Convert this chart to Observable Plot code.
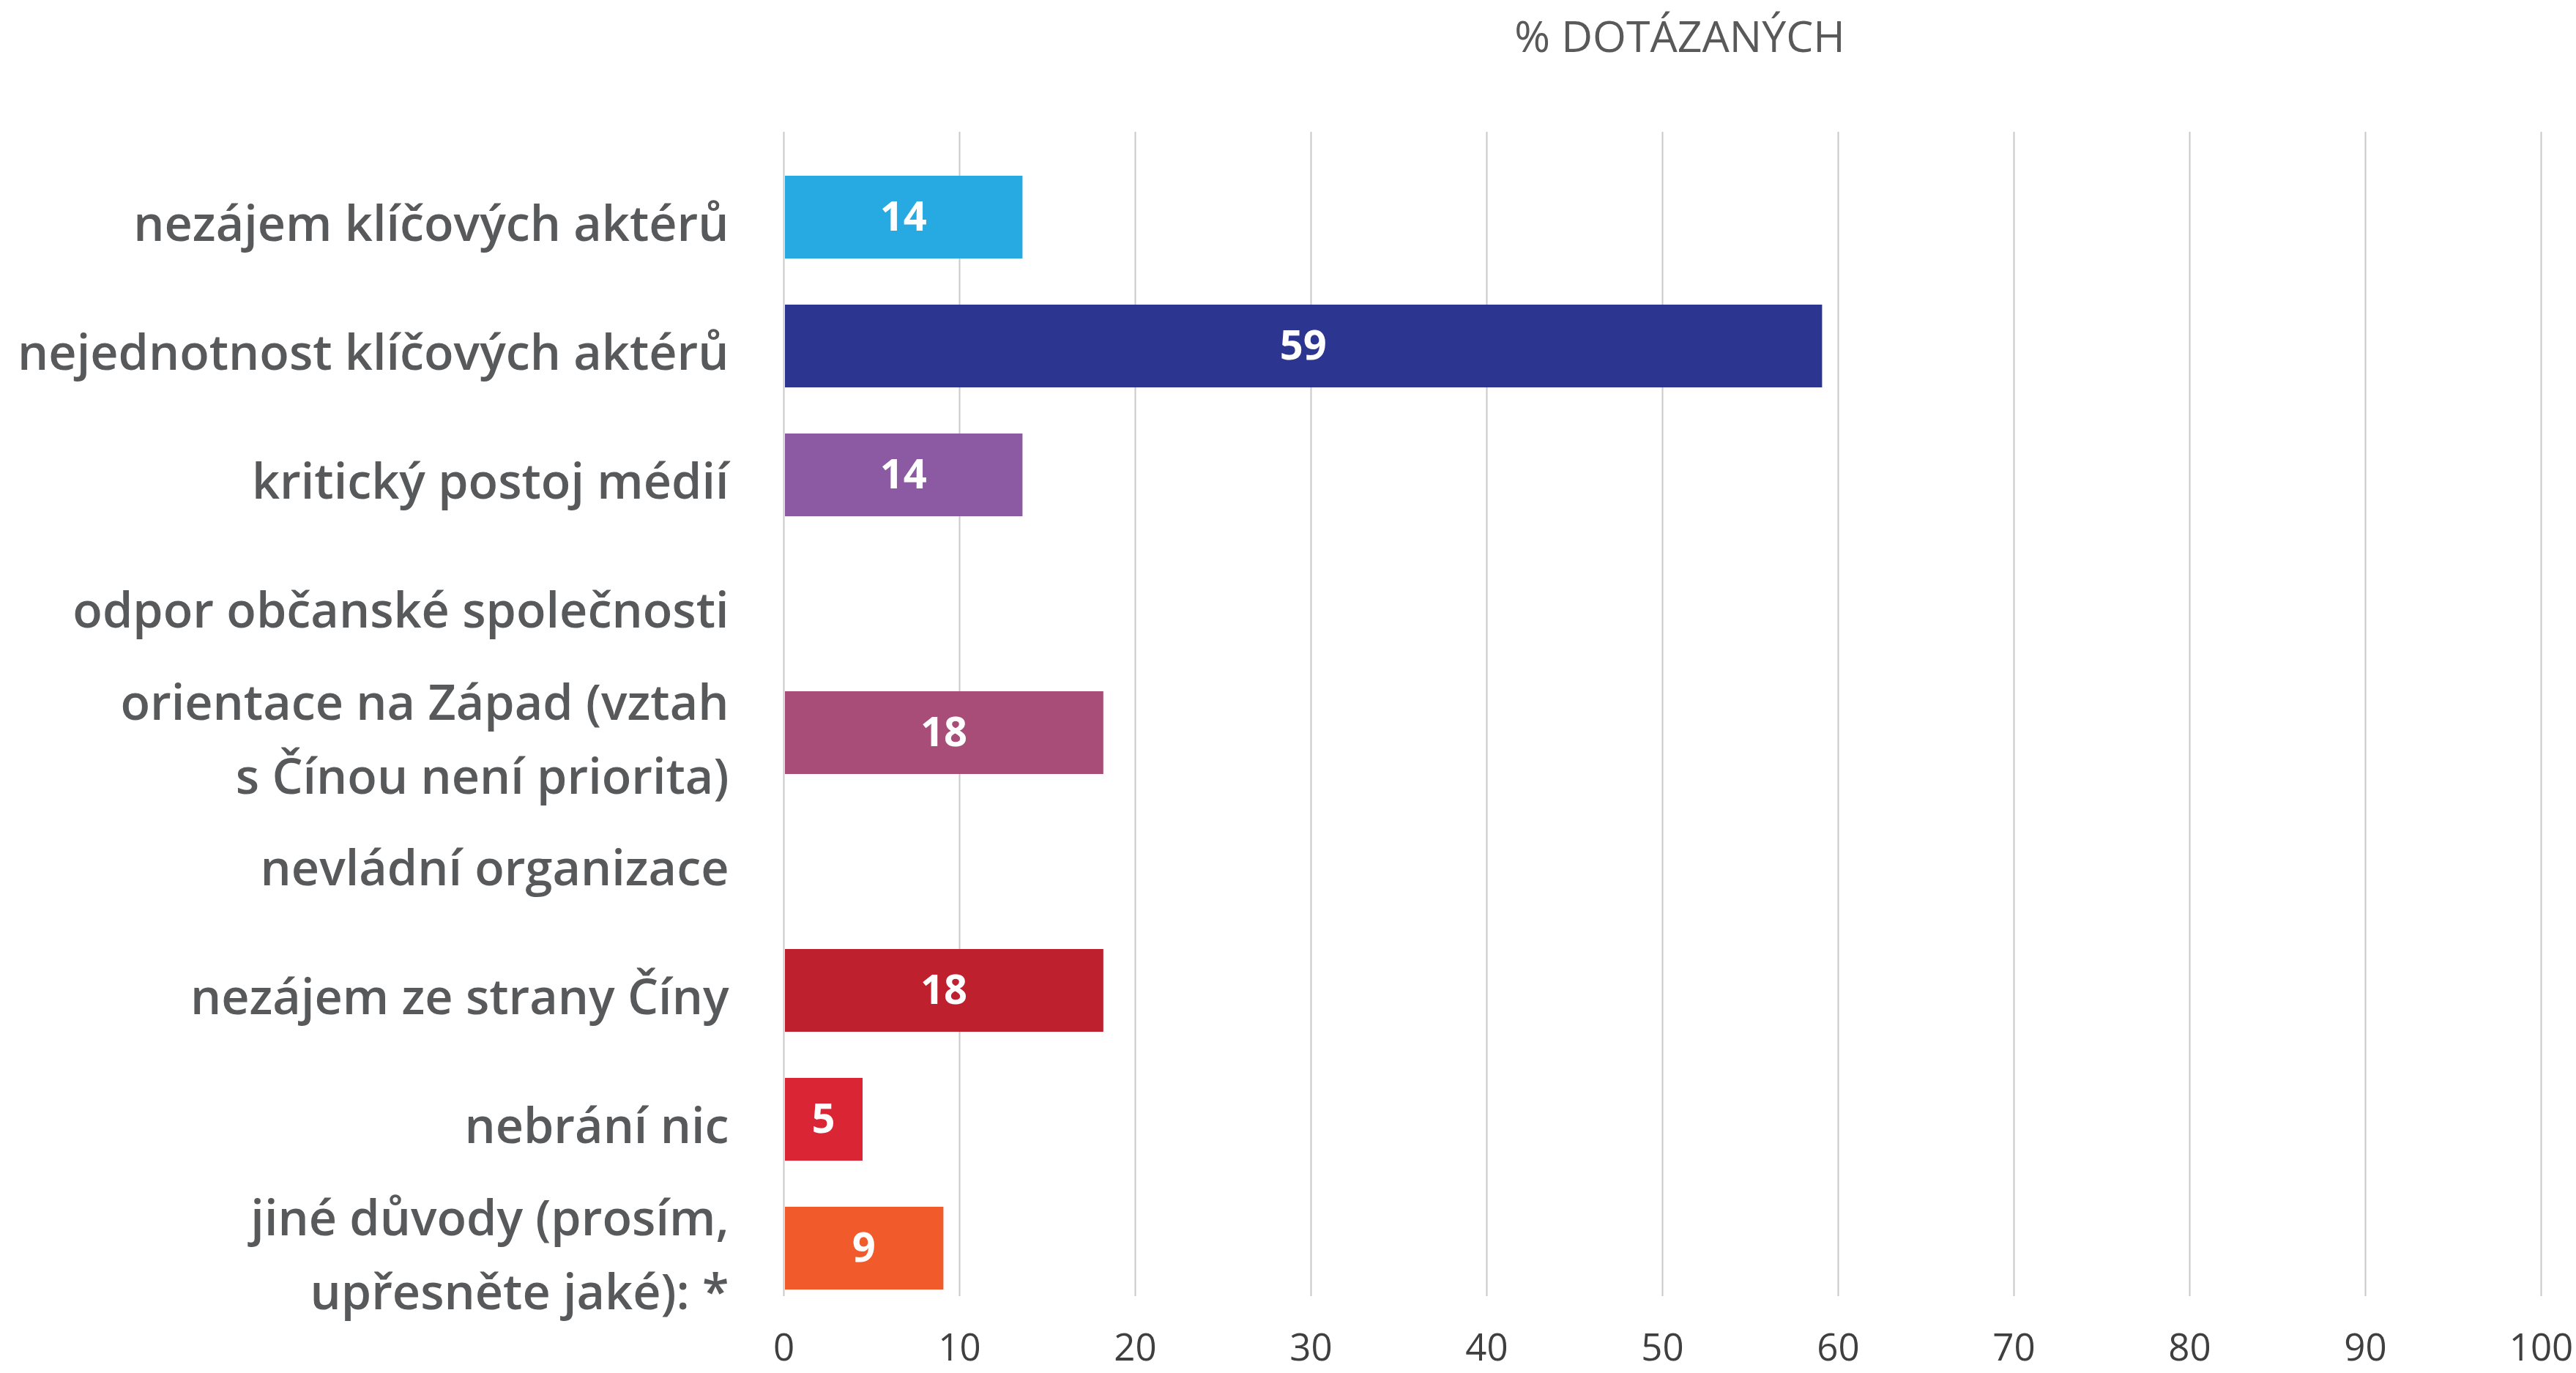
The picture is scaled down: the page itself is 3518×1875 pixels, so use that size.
<!DOCTYPE html>
<html>
<head>
<meta charset="utf-8">
<script src="https://cdn.jsdelivr.net/npm/d3@7"></script>
<script src="https://cdn.jsdelivr.net/npm/@observablehq/plot@0.6"></script>
<style>
  html, body { margin: 0; padding: 0; background: #fff; }
  #wrap { position: relative; width: 3518px; height: 1875px; overflow: hidden; }
  #title {
    position: absolute; left: 1094px; top: 0; width: 2400px; height: 120px;
    text-align: center; font-family: "Open Sans", sans-serif; font-size: 59px;
    font-weight: 400; color: #595959; line-height: 1; padding-top: 19px; box-sizing: border-box;
  }
  #chart { position: absolute; left: 0; top: 120px; }
</style>
</head>
<body>
<div id="wrap">
  <div id="title">% DOTÁZANÝCH</div>
  <div id="chart"></div>
</div>
<script>
const categories = [
  "nezájem klíčových aktérů",
  "nejednotnost klíčových aktérů",
  "kritický postoj médií",
  "odpor občanské společnosti",
  "orientace na Západ (vztah\ns Čínou není priorita)",
  "nevládní organizace",
  "nezájem ze strany Číny",
  "nebrání nic",
  "jiné důvody (prosím,\nupřesněte jaké): *"
];
const values = [13.6, 59.1, 13.6, 0, 18.2, 0, 18.2, 4.5, 9.1];
const colors = ["#27a9e1", "#2c3690", "#8c5aa2", "#999999", "#a84d78", "#999999", "#be202e", "#da2535", "#f15a2b"];
const xTicks = [0, 10, 20, 30, 40, 50, 60, 70, 80, 90, 100];

const data = categories.map((c, i) => ({category: c, value: values[i]}));
const shown = data.filter(d => d.value > 0);

const chart = Plot.plot({
  width: 3518,
  height: 1755,
  marginTop: 60,
  marginBottom: 105,
  marginLeft: 1070,
  marginRight: 48,
  style: {fontFamily: "'Open Sans', sans-serif", background: "#fff"},
  x: {domain: [0, 100], ticks: xTicks},
  y: {domain: categories, paddingInner: 0.36, paddingOuter: 0, insetTop: 58, insetBottom: 8},
  color: {domain: categories, range: colors},
  marks: [
    Plot.gridX(xTicks, {stroke: "#c9c9c9", strokeOpacity: 1, strokeWidth: 2}),
    Plot.barX(shown, {x: "value", y: "category", fill: "category", insetLeft: 2}),
    Plot.text(shown, {
      x: d => d.value / 2, y: "category", text: d => String(Math.round(d.value)),
      fill: "white", fontSize: 56, fontWeight: 700
    }),
    Plot.axisX(xTicks, {
      anchor: "bottom", tickSize: 0, tickPadding: 51, fontSize: 51, fontWeight: 400,
      fill: "#3f3f3f", label: null, tickFormat: d => String(d)
    }),
    Plot.axisY({
      anchor: "left", tickSize: 0, tickPadding: 75, fontSize: 66.5, fontWeight: 600,
      fill: "#58595b", label: null, lineHeight: 1.52
    })
  ]
});
document.getElementById("chart").appendChild(chart);
</script>
</body>
</html>
